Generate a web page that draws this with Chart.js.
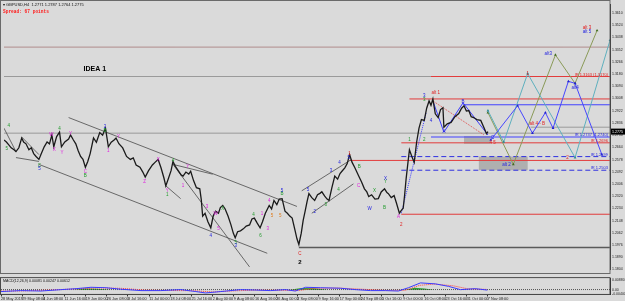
<!DOCTYPE html>
<html>
<head>
<meta charset="utf-8">
<script src="https://cdn.jsdelivr.net/npm/chart.js@4.4.0/dist/chart.umd.min.js"></script>
<style>
  html, body { margin: 0; padding: 0; background: #dadada; }
  #wrap { position: relative; width: 625px; height: 301px; overflow: hidden; }
  canvas { position: absolute; left: 0; }
  #main { top: 0; }
  #macd { top: 274px; }
</style>
</head>
<body>
<div id="wrap">
  <canvas id="main" width="625" height="274"></canvas>
  <canvas id="macd" width="625" height="27"></canvas>
</div>
<script>
// time axis: H4 bars, one label every 44 bars
const timeLabels = ['28 May 2019', '29 May 08:00', '4 Jun 08:00', '11 Jun 16:00', '19 Jun 00:00', '26 Jun 08:00',
  '3 Jul 16:00', '11 Jul 00:00', '18 Jul 08:00', '25 Jul 16:00', '2 Aug 00:00', '9 Aug 08:00', '16 Aug 16:00',
  '26 Aug 00:00', '2 Sep 08:00', '9 Sep 16:00', '17 Sep 00:00', '24 Sep 08:00', '1 Oct 16:00', '9 Oct 00:00',
  '16 Oct 08:00', '23 Oct 16:00', '31 Oct 00:00', '7 Nov 08:00'];
const barsPerLabel = 44;
const lastBar = 1266;

const priceTicks = [1.3610, 1.3524, 1.3438, 1.3352, 1.3266, 1.3180, 1.3094, 1.3008, 1.2922, 1.2836, 1.2750,
  1.2664, 1.2578, 1.2492, 1.2406, 1.2320, 1.2234, 1.2148, 1.2062, 1.1976, 1.1890, 1.1804];
const lastPrice = 1.2775;

// [bar, close]
const pricePath = [
  [0, 1.2716], [5, 1.2702], [10, 1.2682], [15, 1.2661], [21, 1.2647], [25, 1.2634], [31, 1.2661], [37, 1.2730],
  [41, 1.2702], [46, 1.2689], [52, 1.2647], [57, 1.2661], [62, 1.2620], [67, 1.2600], [73, 1.2579], [78, 1.2620],
  [84, 1.2668], [90, 1.2702], [95, 1.2689], [100, 1.2751], [104, 1.2668], [110, 1.2740], [116, 1.2771], [120, 1.2668],
  [127, 1.2702], [135, 1.2723], [139, 1.2751], [145, 1.2716], [150, 1.2689], [155, 1.2640], [160, 1.2600], [165, 1.2579],
  [170, 1.2524], [175, 1.2565], [180, 1.2620], [187, 1.2730], [193, 1.2700], [200, 1.2768], [206, 1.2750], [212, 1.2799],
  [218, 1.2668], [224, 1.2700], [230, 1.2716], [234, 1.2730], [240, 1.2690], [248, 1.2660], [256, 1.2600], [264, 1.2579],
  [270, 1.2590], [276, 1.2540], [284, 1.2524], [290, 1.2490], [295, 1.2455], [302, 1.2500], [310, 1.2540], [316, 1.2560],
  [322, 1.2579], [328, 1.2520], [334, 1.2450], [338, 1.2393], [344, 1.2450], [349, 1.2500], [353, 1.2565], [358, 1.2530],
  [364, 1.2500], [370, 1.2470], [374, 1.2462], [380, 1.2490], [386, 1.2476], [390, 1.2496], [396, 1.2430], [402, 1.2380],
  [409, 1.2372], [412, 1.2300], [415, 1.2180], [420, 1.2200], [426, 1.2140], [432, 1.2097], [437, 1.2180], [442, 1.2214],
  [448, 1.2200], [452, 1.2240], [457, 1.2255], [462, 1.2230], [468, 1.2180], [474, 1.2120], [479, 1.2060], [483, 1.2028],
  [488, 1.2070], [494, 1.2076], [500, 1.2090], [506, 1.2110], [513, 1.2118], [518, 1.2160], [523, 1.2166], [529, 1.2130],
  [535, 1.2097], [540, 1.2140], [546, 1.2200], [554, 1.2255], [559, 1.2230], [564, 1.2290], [570, 1.2260], [575, 1.2300],
  [581, 1.2303], [587, 1.2214], [592, 1.2200], [597, 1.2180], [602, 1.2166], [608, 1.2080], [612, 1.2020], [616, 1.1980],
  [621, 1.2060], [625, 1.2150], [629, 1.2214], [633, 1.2280], [637, 1.2338], [643, 1.2310], [649, 1.2290], [655, 1.2330],
  [660, 1.2340], [664, 1.2351], [670, 1.2320], [675, 1.2300], [679, 1.2290], [685, 1.2380], [691, 1.2462], [697, 1.2440],
  [702, 1.2480], [706, 1.2496], [712, 1.2520], [717, 1.2550], [722, 1.2613], [727, 1.2560], [733, 1.2520], [741, 1.2462],
  [747, 1.2420], [753, 1.2372], [758, 1.2350], [762, 1.2317], [768, 1.2330], [775, 1.2300], [782, 1.2303], [788, 1.2350],
  [795, 1.2372], [800, 1.2345], [803, 1.2338], [809, 1.2310], [815, 1.2324], [820, 1.2270], [826, 1.2200], [830, 1.2220],
  [834, 1.2235], [837, 1.2330], [840, 1.2440], [844, 1.2560], [847, 1.2647], [852, 1.2600], [857, 1.2558], [862, 1.2700],
  [867, 1.2799], [872, 1.2860], [878, 1.2854], [883, 1.2940], [888, 1.2991], [892, 1.2960], [896, 1.3005], [901, 1.2900],
  [907, 1.2874], [912, 1.2930], [917, 1.2943], [919, 1.2806], [926, 1.2830], [934, 1.2840], [942, 1.2880], [950, 1.2902],
  [956, 1.2940], [961, 1.2957], [966, 1.2920], [971, 1.2923], [976, 1.2880], [981, 1.2874], [988, 1.2860], [996, 1.2854],
  [1003, 1.2800], [1008, 1.2760], [1011, 1.2775]
];

// horizontal levels: [price, fromBar, toBar]
const redLevels = [[1.3163, 892, lastBar], [1.3005, 847, lastBar], [1.2696, 830, lastBar], [1.2572, 722, lastBar], [1.2193, 830, lastBar]];
const blueLevels = [[1.2964, 959, lastBar], [1.2737, 892, lastBar]];
const blueDashedLevels = [[1.2599, 830, lastBar], [1.2503, 830, lastBar]];
const grayLevels = [[1.3163, 0, 892], [1.2764, 0, lastBar], [1.2806, 1100, lastBar]];
const roseLevels = [[1.3370, 0, lastBar]];
const supportLevels = [[1.1959, 616, lastBar]];

// trend / channel lines: [bar1, price1, bar2, price2]
const channelLines = [
  [135, 1.2874, 612, 1.2248], [73, 1.2544, 550, 1.1918], [0, 1.2799, 25, 1.2634], [37, 1.2737, 73, 1.2613],
  [25, 1.2592, 73, 1.2565], [353, 1.2544, 513, 1.1822], [353, 1.2544, 436, 1.2475], [338, 1.2393, 369, 1.2303],
  [622, 1.2358, 726, 1.2579], [643, 1.2200, 730, 1.2407]
];

// projected wave paths: [bar, price]
const bluePath = [[1017, 1.2716], [1073, 1.2957], [1104, 1.2764], [1131, 1.2909], [1147, 1.2799], [1179, 1.3129], [1193, 1.3115], [1249, 1.2613]];
const tealPath = [[1011, 1.2923], [1044, 1.2702], [1094, 1.3184], [1193, 1.2592], [1266, 1.3418]];
const olivePath = [[1011, 1.2909], [1064, 1.2544], [1152, 1.3315], [1193, 1.3115], [1239, 1.3487]];
const abcPath = [[896, 1.2991], [919, 1.2771], [959, 1.2978], [1011, 1.2751]];
const redDottedPath = [[896, 1.2991], [1003, 1.2751]];
const blueDottedPath = [[830, 1.2200], [882, 1.2909]];

// shaded zones: [fromBar, toBar, top, bottom]
const zoneBoxes = [[961, 1017, 1.2744, 1.2689], [992, 1094, 1.2599, 1.2503]];

// wave labels: [bar, price, text]
const pinkLabels = [[99, 1.2751, 'W'], [105, 1.2647, 'X'], [121, 1.2627, 'Y'], [139, 1.2758, 'Y'], [170, 1.2489, 'C'],
  [218, 1.2640, '1'], [239, 1.2737, 'Y'], [322, 1.2579, 'X'], [294, 1.2420, 'Z'], [341, 1.2358, 'Y'], [374, 1.2393, '1'],
  [384, 1.2524, 'Y'], [424, 1.2248, '3'], [442, 1.2193, 'W'], [448, 1.2090, '5'], [539, 1.2193, '1'], [551, 1.2090, '3'],
  [554, 1.2290, '4'], [741, 1.2393, 'C'], [824, 1.2173, 'A']];
const greenLabels = [[10, 1.2819, '4'], [6, 1.2654, '5'], [74, 1.2537, 'C'], [116, 1.2792, '4'], [170, 1.2462, 'B'],
  [211, 1.2778, 'B'], [353, 1.2572, '4'], [341, 1.2330, '1'], [457, 1.2235, 'X'], [484, 1.1995, '5'], [521, 1.2186, '4'],
  [536, 1.2042, '6'], [581, 1.2338, 'B'], [672, 1.2262, '3'], [699, 1.2365, '4'], [742, 1.2530, 'B'], [774, 1.2358, 'X'],
  [797, 1.2420, 'Y'], [795, 1.2241, 'B'], [847, 1.2716, '1'], [878, 1.2997, '3'], [878, 1.2716, '2']];
const blueLabels = [[74, 1.2510, '5'], [211, 1.2806, '2'], [432, 1.2042, '4'], [484, 1.1973, '3'], [581, 1.2358, '5'],
  [635, 1.2365, '5'], [649, 1.2207, '2'], [683, 1.2496, '3'], [701, 1.2558, '4'], [720, 1.2593, '5'], [764, 1.2235, 'W'],
  [797, 1.2441, 'X'], [878, 1.3026, '3'], [892, 1.2854, '4'], [919, 1.2771, 'A'], [959, 1.2984, 'B'], [1021, 1.2730, 'C'],
  [1050, 1.2544, 'alt 2'], [1137, 1.3322, 'alt3'], [1218, 1.3480, 'alt 5'], [1193, 1.3081, 'alt4']];
const redLabels = [[722, 1.2620, '1'], [830, 1.2118, '2'], [618, 1.1912, 'C'], [902, 1.3046, 'alt 1'], [1021, 1.2696, '4 5'],
  [1114, 1.2833, 'alt 4 - B'], [1177, 1.2592, '2'], [1094, 1.3184, '1'], [1218, 1.3507, 'alt 3']];
const orangeLabels = [[560, 1.2180, '5'], [577, 1.2180, '5']];
const blackLabels = [[618, 1.1856, '2']];
const ideaLabel = [166, 1.3218, 'IDEA 1'];

// level captions on the right: [price, text]
const redLevelText = [[1.3163, 'lR 1.3163 (1.3170)'], [1.2696, 'lR 1.2696']];
const blueLevelText = [[1.2737, 'lR 1.2737 (1.2740)'], [1.2599, 'lR 1.2599'], [1.2503, 'lR 1.2503']];

// MACD panel: [bar, value]
const macdMain = [[0, -0.0018], [41, -0.0009], [83, -0.0013], [125, 0], [156, 0.0009], [187, 0.0022], [218, 0.0018],
  [249, 0.0004], [291, -0.0009], [332, -0.0009], [374, 0], [405, -0.0018], [425, -0.0031], [457, -0.0018], [498, 0],
  [529, -0.0004], [560, -0.0009], [591, 0], [612, -0.0013], [633, 0.0022], [664, 0.0018], [706, 0.0013], [737, 0],
  [768, -0.0009], [799, -0.0009], [826, -0.0013], [847, 0.0018], [872, 0.0063], [903, 0.0054], [930, 0.0031],
  [955, 0], [986, 0.0009], [1011, -0.0004]];
const macdSignal = [[0, -0.0014], [50, -0.0011], [100, -0.0004], [150, 0.0006], [200, 0.0016], [250, 0.0012],
  [300, -0.0004], [350, -0.0008], [400, -0.0010], [440, -0.0022], [480, -0.0012], [530, -0.0004], [580, -0.0006],
  [620, -0.0008], [650, 0.0012], [700, 0.0015], [750, 0.0004], [800, -0.0007], [840, -0.0006], [870, 0.0040],
  [900, 0.0052], [940, 0.0036], [970, 0.0008], [1011, 0.0002]];
const macdHist = [[0, 0], [150, 0], [175, 0.0010], [200, 0.0008], [230, 0], [600, 0], [625, 0.0015], [650, 0.0012],
  [680, 0], [840, 0], [860, 0.0018], [880, 0.0010], [900, 0], [1011, 0]];
const macdTicks = [0.0088, 0, -0.0040];

Chart.defaults.font.family = 'Liberation Sans';
Chart.defaults.animation = false;

const toPoints = arr => arr.map(([x, y]) => ({ x, y }));

function lineDs(points, color, width, dash, extra) {
  return Object.assign({
    data: points, borderColor: color, borderWidth: width, borderDash: dash || [],
    pointRadius: 0, fill: false, tension: 0
  }, extra || {});
}

const datasets = [];
datasets.push(lineDs(toPoints(pricePath), '#1a1a1a', 1.3));
datasets.push(lineDs(toPoints(abcPath), '#3b3bff', 1));
datasets.push(lineDs(toPoints(redDottedPath), '#e05050', 1, [1, 1]));
datasets.push(lineDs(toPoints(blueDottedPath), '#3b3bff', 1, [1, 1]));
datasets.push(lineDs(toPoints(bluePath), '#4646ff', 1, [], { pointRadius: 1.6, pointStyle: 'triangle', pointBackgroundColor: '#2020d0', pointBorderWidth: 0 }));
datasets.push(lineDs(toPoints(tealPath), '#5fb0be', 1, [], { pointRadius: 1.6, pointStyle: 'triangle', pointBackgroundColor: '#2a8898', pointBorderWidth: 0 }));
datasets.push(lineDs(toPoints(olivePath), '#8a9a58', 1, [], { pointRadius: 1.6, pointStyle: 'triangle', pointBackgroundColor: '#3f6a1e', pointBorderWidth: 0 }));
channelLines.forEach(([b1, p1, b2, p2]) => datasets.push(lineDs([{ x: b1, y: p1 }, { x: b2, y: p2 }], '#4a4a4a', 0.8)));

const levelGroups = [
  [redLevels, '#e23c3c', 1, []], [blueLevels, '#4040ff', 1, []], [blueDashedLevels, '#3030e0', 1, [5, 3]],
  [grayLevels, '#9a9a9a', 1, []], [roseLevels, '#b08c8c', 1, []], [supportLevels, '#5a5a5a', 1.5, []]
];
levelGroups.forEach(([levels, color, width, dash]) => {
  levels.forEach(([p, from, to]) => datasets.push(lineDs([{ x: from, y: p }, { x: to, y: p }], color, width, dash)));
});

const labelGroups = [
  [pinkLabels, '#e020e0'], [greenLabels, '#1f9a2a'], [blueLabels, '#2424e0'],
  [redLabels, '#e02020'], [orangeLabels, '#e07a1a'], [blackLabels, '#000000']
];

const mainPlugin = {
  id: 'mainDecor',
  beforeDraw(chart) {
    const { ctx } = chart;
    ctx.save();
    ctx.fillStyle = '#dadada';
    ctx.fillRect(0, 0, chart.width, chart.height);
    ctx.restore();
  },
  beforeDatasetsDraw(chart) {
    const { ctx, scales: { x, y } } = chart;
    ctx.save();
    ctx.fillStyle = 'rgba(140,140,140,0.55)';
    zoneBoxes.forEach(([b1, b2, top, bottom]) => {
      const x1 = x.getPixelForValue(b1), x2 = x.getPixelForValue(b2);
      const y1 = y.getPixelForValue(top), y2 = y.getPixelForValue(bottom);
      ctx.fillRect(x1, y1, x2 - x1, y2 - y1);
    });
    ctx.restore();
  },
  afterDatasetsDraw(chart) {
    const { ctx, scales: { x, y }, chartArea: a } = chart;
    ctx.save();
    ctx.textAlign = 'center';
    ctx.textBaseline = 'middle';
    labelGroups.forEach(([items, color]) => {
      ctx.fillStyle = color;
      ctx.font = (color === '#000000' ? 'bold 6px ' : '4.5px ') + 'Liberation Sans';
      items.forEach(([b, p, t]) => ctx.fillText(t, x.getPixelForValue(b), y.getPixelForValue(p)));
    });
    // idea caption
    ctx.fillStyle = '#000';
    ctx.font = 'bold 7px Liberation Sans';
    ctx.textAlign = 'left';
    ctx.fillText(ideaLabel[2], x.getPixelForValue(ideaLabel[0]), y.getPixelForValue(ideaLabel[1]));
    // level captions
    ctx.textAlign = 'right';
    ctx.textBaseline = 'bottom';
    ctx.font = '4px Liberation Sans';
    ctx.fillStyle = '#e02020';
    redLevelText.forEach(([p, t]) => ctx.fillText(t, a.right - 2, y.getPixelForValue(p)));
    ctx.fillStyle = '#2424e0';
    blueLevelText.forEach(([p, t]) => ctx.fillText(t, a.right - 2, y.getPixelForValue(p)));
    ctx.restore();
  },
  afterDraw(chart) {
    const { ctx, scales: { y }, chartArea: a } = chart;
    ctx.save();
    // window frame
    ctx.strokeStyle = '#6a6a6a';
    ctx.lineWidth = 1;
    ctx.strokeRect(0.5, 0.5, a.right - 0.5, chart.height - 1);
    // header text
    ctx.textAlign = 'left';
    ctx.textBaseline = 'middle';
    ctx.fillStyle = '#111';
    ctx.font = '4px Liberation Sans';
    ctx.fillText('\u25BE GBPUSD,H4  1.2771 1.2787 1.2764 1.2775', 3, 5);
    ctx.fillStyle = '#ff1a1a';
    ctx.font = 'bold 4.5px Liberation Mono';
    ctx.fillText('Spread: 67 points', 3, 12);
    // bid box
    const yb = y.getPixelForValue(lastPrice);
    ctx.fillStyle = '#000';
    ctx.fillRect(a.right + 1, yb - 3, chart.width - a.right - 1, 6);
    ctx.fillStyle = '#fff';
    ctx.font = '3.6px Liberation Sans';
    ctx.fillText(lastPrice.toFixed(4), a.right + 2, yb);
    ctx.restore();
  }
};

new Chart(document.getElementById('main'), {
  type: 'line',
  data: { datasets },
  options: {
    responsive: false,
    devicePixelRatio: 1,
    layout: { padding: { left: 1, top: 1, right: 0, bottom: 1 } },
    plugins: { legend: { display: false }, tooltip: { enabled: false } },
    scales: {
      x: { type: 'linear', min: 0, max: lastBar, display: false },
      y: {
        position: 'right', min: 1.1801, max: 1.3673,
        grid: { display: false, drawTicks: false },
        border: { display: true, color: '#222', width: 1 },
        afterBuildTicks: s => { s.ticks = priceTicks.map(v => ({ value: v })); },
        afterFit: s => { s.width = 15; },
        ticks: { autoSkip: false, padding: 2, color: '#222', font: { size: 3.5 }, callback: v => v.toFixed(4) }
      }
    }
  },
  plugins: [mainPlugin]
});

const macdPlugin = {
  id: 'macdDecor',
  beforeDraw(chart) {
    const { ctx } = chart;
    ctx.save();
    ctx.fillStyle = '#dadada';
    ctx.fillRect(0, 0, chart.width, chart.height);
    ctx.restore();
  },
  afterDraw(chart) {
    const { ctx, chartArea: a } = chart;
    ctx.save();
    ctx.strokeStyle = '#4a4a4a';
    ctx.lineWidth = 1;
    ctx.strokeRect(0.5, a.top - 0.5, a.right - 0.5, a.bottom - a.top + 0.5);
    ctx.fillStyle = '#111';
    ctx.font = '3.6px Liberation Sans';
    ctx.textAlign = 'left';
    ctx.textBaseline = 'middle';
    ctx.fillText('MACD(12,26,9) 0.00081 0.00247 0.00612', 3, a.top + 3);
    ctx.restore();
  }
};

new Chart(document.getElementById('macd'), {
  type: 'line',
  data: {
    datasets: [
      lineDs(toPoints(macdMain), '#3a3aff', 1),
      lineDs(toPoints(macdSignal), '#ff3a3a', 1, [1, 1]),
      lineDs([{ x: 0, y: 0 }, { x: lastBar, y: 0 }], '#333', 0.8, [1, 1]),
      lineDs(toPoints(macdHist), 'rgba(0,0,0,0)', 0, [], { fill: 'origin', backgroundColor: '#2ca02c' })
    ]
  },
  options: {
    responsive: false,
    devicePixelRatio: 1,
    layout: { padding: { left: 1, top: 1, right: 0, bottom: 0 } },
    plugins: { legend: { display: false }, tooltip: { enabled: false } },
    scales: {
      x: {
        type: 'linear', min: 0, max: lastBar,
        grid: { display: true, drawOnChartArea: false, drawTicks: true, tickLength: 2, color: '#333' },
        border: { display: true, color: '#333' },
        afterBuildTicks: s => { s.ticks = timeLabels.map((_, i) => ({ value: i * barsPerLabel })); },
        ticks: {
          autoSkip: false, maxRotation: 0, align: 'start', padding: 0, color: '#222', font: { size: 3.8 },
          callback: (v, i) => timeLabels[i]
        }
      },
      y: {
        position: 'right', min: -0.0045, max: 0.0108,
        grid: { display: false, drawTicks: false },
        border: { display: true, color: '#222' },
        afterBuildTicks: s => { s.ticks = macdTicks.map(v => ({ value: v })); },
        afterFit: s => { s.width = 15; },
        ticks: { autoSkip: false, padding: 2, color: '#222', font: { size: 3.5 }, callback: v => (v === 0 ? '0.00' : v.toFixed(5)) }
      }
    }
  },
  plugins: [macdPlugin]
});
</script>
</body>
</html>
